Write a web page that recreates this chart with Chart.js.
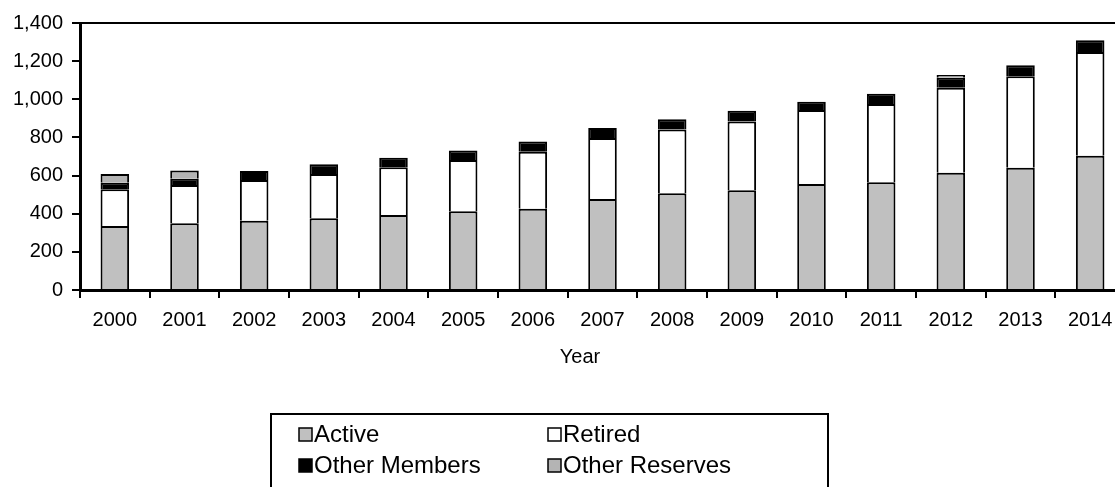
<!DOCTYPE html>
<html>
<head>
<meta charset="utf-8">
<style>
  html, body { margin: 0; padding: 0; background: #fff; overflow: hidden; }
  #chart { display: block; }
</style>
<script src="https://cdn.jsdelivr.net/npm/chart.js@4/dist/chart.umd.min.js"></script>
</head>
<body>
<canvas id="chart" width="1125" height="487"></canvas>
<script>
// --- Data ---
const years = ['2000', '2001', '2002', '2003', '2004', '2005', '2006', '2007',
               '2008', '2009', '2010', '2011', '2012', '2013', '2014'];
const active        = [336, 350, 363, 376, 393, 413, 426, 477, 507, 523, 556, 565, 615, 641, 704];
const retired       = [192, 201, 214, 232, 250, 269, 299, 320, 335, 361, 388, 410, 446, 480, 544];
const otherMembers  = [35, 32, 47, 51, 51, 50, 53, 52, 53, 56, 43, 54, 52, 57, 61];
const otherReserves = [45, 43, null, null, null, null, null, null, null, null, null, null, 14, null, null];
const yTicks = [0, 200, 400, 600, 800, 1000, 1200, 1400];

const FONT = '"Liberation Sans", Arial, sans-serif';

function series(label, data, color) {
    return {
        label: label,
        data: data,
        backgroundColor: color,
        borderColor: '#000',
        borderWidth: 2,
        barPercentage: 0.41,
        categoryPercentage: 1
    };
}

// top frame line, axis title and the boxed two-column legend
const extras = {
    id: 'extras',
    afterDraw(chart) {
        const ctx = chart.ctx;
        const area = chart.chartArea;
        ctx.save();

        ctx.strokeStyle = '#000';
        ctx.lineWidth = 2;
        ctx.beginPath();
        ctx.moveTo(area.left, area.top);
        ctx.lineTo(area.right, area.top);
        ctx.stroke();

        ctx.fillStyle = '#000';
        ctx.font = '20px ' + FONT;
        ctx.textAlign = 'center';
        ctx.textBaseline = 'middle';
        ctx.fillText('Year', 580, 357);

        // legend box (runs off the bottom edge)
        ctx.lineWidth = 2;
        ctx.strokeRect(271, 414, 557, 100);

        const cols = [299, 548];
        const rows = [434, 465];
        ctx.font = '24px ' + FONT;
        ctx.textAlign = 'left';
        chart.data.datasets.forEach((ds, i) => {
            const x = cols[i % 2];
            const y = rows[Math.floor(i / 2)];
            ctx.fillStyle = ds.backgroundColor;
            ctx.fillRect(x, y - 6, 13, 13);
            ctx.lineWidth = 1.5;
            ctx.strokeRect(x, y - 6, 13, 13);
            ctx.fillStyle = '#000';
            ctx.fillText(ds.label, x + 15, y + 1);
        });
        ctx.restore();
    }
};

new Chart(document.getElementById('chart'), {
    type: 'bar',
    data: {
        labels: years,
        datasets: [
            series('Active', active, '#c0c0c0'),
            series('Retired', retired, '#ffffff'),
            series('Other Members', otherMembers, '#000000'),
            series('Other Reserves', otherReserves, '#b4b4b4')
        ]
    },
    options: {
        responsive: false,
        animation: false,
        layout: { padding: { top: 23, left: 0, right: 0, bottom: 0 } },
        plugins: {
            legend: { display: false },
            tooltip: { enabled: false }
        },
        scales: {
            x: {
                stacked: true,
                afterFit(scale) { scale.height = 197; },
                border: { display: true, color: '#000', width: 3 },
                grid: {
                    drawOnChartArea: false,
                    drawTicks: true,
                    tickLength: 8,
                    color: '#000',
                    lineWidth: 2
                },
                ticks: {
                    color: '#000',
                    padding: 10,
                    maxRotation: 0,
                    font: { family: FONT, size: 20 }
                }
            },
            y: {
                stacked: true,
                min: yTicks[0],
                max: yTicks[yTicks.length - 1],
                afterFit(scale) { scale.width = 80; },
                afterBuildTicks(scale) { scale.ticks = yTicks.map(v => ({ value: v })); },
                border: { display: true, color: '#000', width: 3 },
                grid: {
                    drawOnChartArea: false,
                    drawTicks: true,
                    tickLength: 8,
                    color: '#000',
                    lineWidth: 2
                },
                ticks: {
                    color: '#000',
                    padding: 9,
                    font: { family: FONT, size: 20 },
                    callback: v => v.toLocaleString('en-US')
                }
            }
        }
    },
    plugins: [extras]
});
</script>
</body>
</html>
